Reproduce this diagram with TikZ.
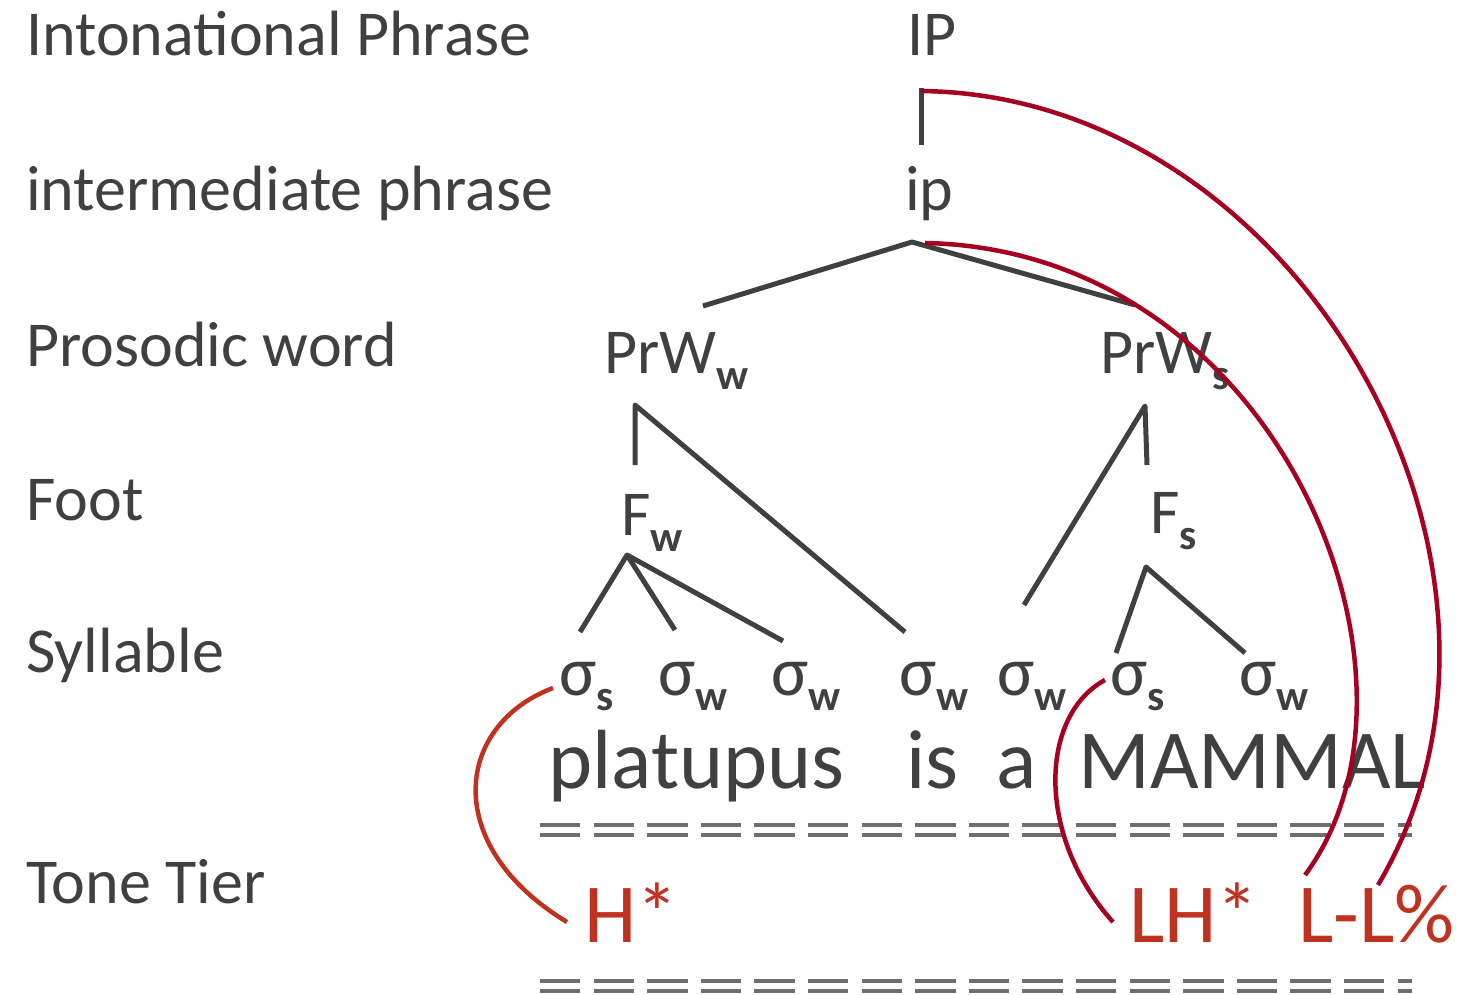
\documentclass[tikz,border=0pt]{standalone}
\usepackage{fontspec}
\setmainfont{Carlito}
\definecolor{ink}{RGB}{64,64,64}
\definecolor{tone}{RGB}{192,50,32}
\definecolor{crim}{RGB}{165,0,33}
\definecolor{rulegray}{RGB}{110,110,110}
\newcommand{\sbs}[1]{\raisebox{-16pt}{\fontsize{43}{43}\selectfont\bfseries #1}}
\newcommand{\sig}[1]{{\fontsize{70}{70}\selectfont σ}\raisebox{-15pt}{\fontsize{43}{43}\selectfont\bfseries #1}}
\begin{document}
\begin{tikzpicture}[x=1pt,y=-1pt,
  lbl/.style={anchor=base west, inner sep=0pt, text=ink, font=\fontsize{64}{70}\selectfont},
  word/.style={anchor=base west, inner sep=0pt, text=ink, font=\fontsize{84}{90}\selectfont},
  tonelbl/.style={anchor=base west, inner sep=0pt, text=tone, font=\fontsize{84}{90}\selectfont},
  tree/.style={draw=ink, line width=5pt, line join=round},
  link/.style={draw=crim, line width=4.5pt},
  hlink/.style={draw=tone, line width=4.5pt},
  dbl/.style={draw=rulegray, line width=4pt, dash pattern=on 40.3pt off 13.3pt}]
\useasboundingbox (0,0) rectangle (1458,994);
% tier labels
\node[lbl] (tIP) at (26,55) {Intonational Phrase};
\node[lbl] (tip) at (26,210) {intermediate phrase};
\node[lbl] (tPrW) at (26,366) {Prosodic word};
\node[lbl] (tFoot) at (26,520) {Foot};
\node[lbl] (tSyl) at (26,672) {Syllable};
\node[lbl] (tTone) at (26,903) {Tone Tier};
% tree nodes
\node[lbl] (IP) at (907,55) {IP};
\node[lbl] (ip) at (905,210) {ip};
\node[lbl] (PrWw) at (604,373) {PrW\sbs{w}};
\node[lbl] (PrWs) at (1100,373) {PrW\sbs{s}};
\node[lbl] (Fw) at (621,535) {F\sbs{w}};
\node[lbl] (Fs) at (1150,533) {F\sbs{s}};
\node[lbl] (s1) at (559,695) {\sig{s}};
\node[lbl] (s2) at (658,695) {\sig{w}};
\node[lbl] (s3) at (771,695) {\sig{w}};
\node[lbl] (s4) at (899,695) {\sig{w}};
\node[lbl] (s5) at (997,695) {\sig{w}};
\node[lbl] (s6) at (1110,695) {\sig{s}};
\node[lbl] (s7) at (1239,695) {\sig{w}};
% words
\node[word] (w1) at (548,788) {platupus};
\node[word] (w2) at (906,788) {is};
\node[word] (w3) at (996,788) {a};
\node[word] (w4) at (1078,788) {MAMMAL};
% tones
\node[tonelbl] (H) at (584,942) {H*};
\node[tonelbl] (LH) at (1129,942) {LH*};
\node[tonelbl] (LL) at (1298,942) {L-L\%};
% rules
\draw[dbl] (540,825) -- (1412,825);
\draw[dbl] (540,835) -- (1412,835);
\draw[dbl] (540,981) -- (1412,981);
\draw[dbl] (540,991) -- (1412,991);
% tree connector points
\coordinate (IPb) at (921,88);
\coordinate (ipt) at (921,145);
\coordinate (ipa) at (912,242);
\coordinate (PrWwt) at (703,306);
\coordinate (PrWst) at (1135,305);
\coordinate (PrWwa) at (635,405);
\coordinate (Fwt) at (635,465);
\coordinate (s4t) at (905,632);
\coordinate (Fwa) at (627,555);
\coordinate (s1t) at (580,632);
\coordinate (s2t) at (675,630);
\coordinate (s3t) at (783,641);
\coordinate (PrWsa) at (1145,406);
\coordinate (Fst) at (1147,465);
\coordinate (s5t) at (1024,605);
\coordinate (Fsa) at (1146,567);
\coordinate (s6t) at (1116,653);
\coordinate (s7t) at (1245,653);
\draw[tree] (IPb) -- (ipt);
\draw[tree] (PrWwt) -- (ipa) -- (PrWst);
\draw[tree] (Fwt) -- (PrWwa) -- (s4t);
\draw[tree] (s1t) -- (Fwa) -- (s2t);
\draw[tree] (Fwa) -- (s3t);
\draw[tree] (s5t) -- (PrWsa) -- (Fst);
\draw[tree] (s6t) -- (Fsa) -- (s7t);
% association curves
\coordinate (c1s) at (553,688);
\coordinate (c1e) at (567,922);
\coordinate (c2s) at (1105,680);
\coordinate (c2e) at (1113,922);
\coordinate (c3s) at (925,243);
\coordinate (c3e) at (1305,875);
\coordinate (c4s) at (921,91);
\coordinate (c4e) at (1378,885);
\draw[hlink] (c1s) .. controls (455,725) and (440,845) .. (c1e);
\draw[link] (c2s) .. controls (1040,715) and (1035,835) .. (c2e);
\draw[link] (c3s) .. controls (1280,250) and (1450,680) .. (c3e);
\draw[link] (c4s) .. controls (1300,95) and (1565,570) .. (c4e);
\end{tikzpicture}
\end{document}
